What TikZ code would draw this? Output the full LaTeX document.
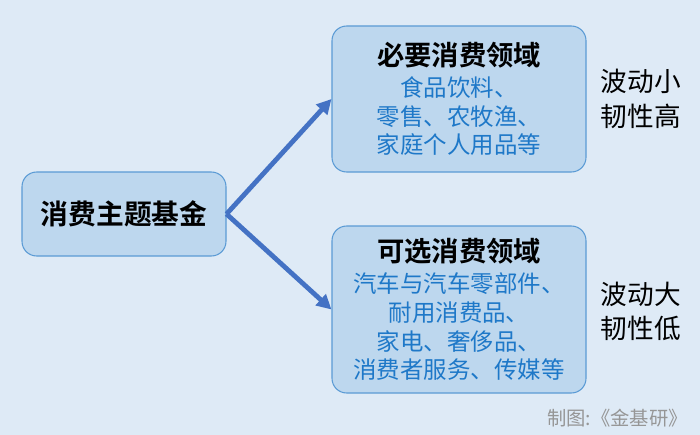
\documentclass[tikz,border=0pt]{standalone}
\usepackage{fontspec}
\setmainfont{Noto Sans CJK SC}[BoldFont={Noto Sans CJK SC Bold}]
\usetikzlibrary{arrows.meta,positioning}
\definecolor{bgblue}{RGB}{222,234,246}
\definecolor{boxfill}{RGB}{189,215,238}
\definecolor{boxline}{RGB}{91,155,213}
\definecolor{itemblue}{RGB}{30,120,200}
\definecolor{arrowblue}{RGB}{68,114,196}
\definecolor{creditgray}{RGB}{150,150,150}
\tikzset{
  topic/.style={draw=boxline,fill=boxfill,rounded corners=11pt,line width=0.8pt,align=center,inner sep=0pt},
  sector/.style={topic,minimum width=190.5pt,text=itemblue,font=\fontsize{17.6}{21.5}\selectfont},
  trait/.style={align=center,font=\fontsize{20}{26}\selectfont,inner sep=0pt},
  arr/.style={-{Triangle[length=11pt,width=11pt]},line width=3.6pt,arrowblue},
}
\newcommand{\hd}[1]{{\color{black}\fontsize{20.5}{24}\selectfont\bfseries #1}}

\begin{document}
\begin{tikzpicture}[x=0.75pt,y=-0.75pt]
\fill[bgblue] (0,0) rectangle (700,435);
\useasboundingbox (0,0) rectangle (700,435);
\node[topic,minimum width=153pt,minimum height=63pt,font=\fontsize{20.8}{24}\selectfont\bfseries] (fund) at (124,214) {消费主题基金};
\node[sector,minimum height=109.5pt] (must) at (459,99)
  {\hd{必要消费领域}\\[2pt]食品饮料、\\零售、农牧渔、\\家庭个人用品等};
\node[sector,minimum height=125.25pt] (opt) at (459,309.5)
  {\hd{可选消费领域}\\[2pt]汽车与汽车零部件、\\耐用消费品、\\家电、奢侈品、\\消费者服务、传媒等};
\node[trait,right=10.5pt of must] (mustnote) {波动小\\韧性高};
\node[trait,right=10.5pt of opt,yshift=-1.5pt] (optnote) {波动大\\韧性低};
\node[anchor=east,inner sep=0pt,text=creditgray,font=\fontsize{14.5}{16}\selectfont] (credit) at (688,418) {制图:《金基研》};
\draw[arr] (fund.east) -- (must.west);
\draw[arr] (fund.east) -- (opt.west);
\end{tikzpicture}
\end{document}
